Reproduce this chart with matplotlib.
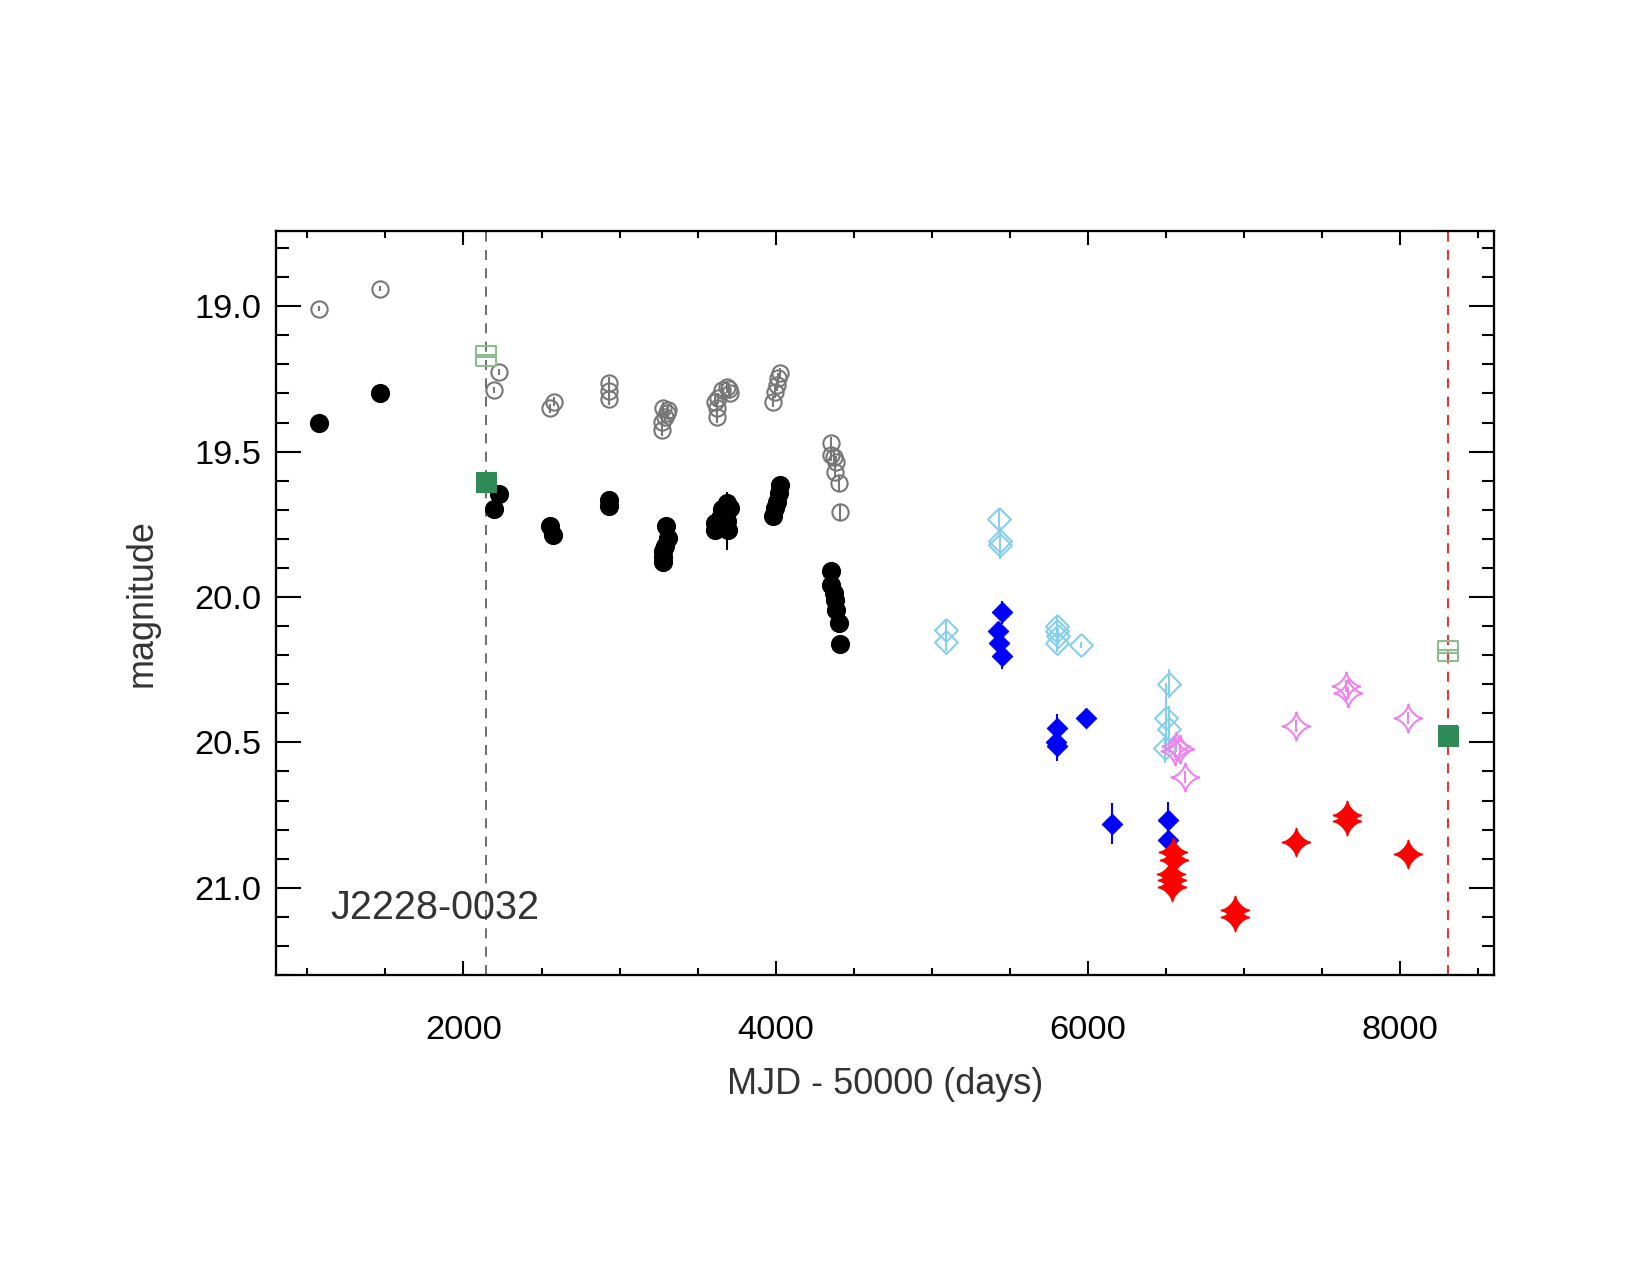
import numpy as np
import matplotlib
matplotlib.use("Agg")
import matplotlib.pyplot as plt
from matplotlib.ticker import MultipleLocator, FormatStrFormatter

plt.rcParams["font.family"] = ["Liberation Sans", "DejaVu Sans"]

# open grey circles
gray_x = [1075, 1465, 2195, 2229, 2554, 2577, 2932, 2932, 2932,
          3269, 3269, 3279, 3290, 3301, 3311,
          3610, 3621, 3621, 3631, 3653, 3685, 3706, 3700,
          3983, 3994, 4005, 4015, 4026,
          4357, 4357, 4372, 4385, 4378, 4404, 4410]
gray_y = [19.008, 18.939, 19.288, 19.225, 19.351, 19.328, 19.263, 19.291, 19.319,
          19.426, 19.397, 19.351, 19.380, 19.368, 19.357,
          19.328, 19.351, 19.380, 19.317, 19.288, 19.277, 19.300, 19.285,
          19.328, 19.294, 19.271, 19.248, 19.231,
          19.471, 19.511, 19.519, 19.534, 19.569, 19.609, 19.709]
gray_err = [0.01, 0.01, 0.01, 0.01, 0.015, 0.015, 0.02, 0.02, 0.02,
            0.02, 0.02, 0.02, 0.02, 0.02, 0.02,
            0.02, 0.02, 0.02, 0.02, 0.02, 0.02, 0.02, 0.02,
            0.02, 0.02, 0.02, 0.02, 0.02,
            0.02, 0.02, 0.02, 0.02, 0.02, 0.025, 0.03]

# filled black circles
black_x = [1075, 1465, 2229, 2195, 2554, 2575, 2933, 2933,
           3296, 3311, 3290, 3279, 3275, 3280,
           3685, 3706, 3653, 3642, 3610, 3610, 3695, 3685,
           4026, 4020, 4005, 3994, 3983,
           4357, 4357, 4370, 4378, 4389, 4404, 4410]
black_y = [19.400, 19.300, 19.646, 19.696, 19.755, 19.786, 19.666, 19.688,
           19.757, 19.797, 19.826, 19.843, 19.862, 19.880,
           19.677, 19.694, 19.697, 19.729, 19.746, 19.769, 19.769, 19.740,
           19.614, 19.643, 19.672, 19.694, 19.723,
           19.912, 19.957, 19.986, 20.009, 20.043, 20.089, 20.163]
black_err = [0.01, 0.01, 0.01, 0.01, 0.01, 0.01, 0.01, 0.01,
             0.02, 0.02, 0.02, 0.02, 0.02, 0.02,
             0.02, 0.02, 0.02, 0.02, 0.02, 0.02, 0.02, 0.10,
             0.02, 0.02, 0.02, 0.02, 0.03,
             0.02, 0.02, 0.02, 0.02, 0.02, 0.02, 0.02]

# open light blue diamonds
lblue_x = [5092, 5092, 5428, 5439, 5433, 5800, 5800, 5805, 5798, 5956,
           6519, 6502, 6519, 6491]
lblue_y = [20.112, 20.156, 19.732, 19.808, 19.820, 20.100, 20.118, 20.135, 20.158, 20.164,
           20.298, 20.415, 20.455, 20.521]
lblue_err = [0.03, 0.03, 0.03, 0.05, 0.05, 0.03, 0.03, 0.03, 0.03, 0.01,
             0.05, 0.12, 0.08, 0.05]

# filled blue diamonds
blue_x = [5451, 5423, 5428, 5451, 5800, 5795, 5800, 5988, 6155, 6514, 6514]
blue_y = [20.053, 20.118, 20.158, 20.204, 20.451, 20.497, 20.514, 20.417, 20.780, 20.766, 20.835]
blue_err = [0.04, 0.03, 0.03, 0.045, 0.05, 0.03, 0.05, 0.01, 0.07, 0.06, 0.03]

# open violet stars
violet_x = [6565, 6590, 6555, 6619, 7330, 7653, 7662, 8046]
violet_y = [20.512, 20.524, 20.530, 20.619, 20.443, 20.307, 20.330, 20.416]
violet_err = [0.02, 0.02, 0.02, 0.02, 0.02, 0.02, 0.02, 0.02]

# filled red stars
red_x = [6544, 6548, 6534, 6540, 6540, 6944, 6944, 7330, 7657, 7657, 8046]
red_y = [20.878, 20.905, 20.953, 20.975, 20.998, 21.076, 21.099, 20.841, 20.749, 20.772, 20.884]
red_err = [0.02, 0.02, 0.02, 0.02, 0.02, 0.02, 0.02, 0.02, 0.02, 0.02, 0.02]

# green squares (open / filled) and reference epochs
gopen_x = [2145, 8305]
gopen_y = [19.172, 20.187]
gopen_err = [0.003, 0.004]
gfill_x = [2145, 8305]
gfill_y = [19.603, 20.477]
gfill_err = [0.005, 0.034]
epoch_black = 2145
epoch_red = 8305

# marker shapes
diamond = [(0, 1), (1, 0), (0, -1), (-1, 0), (0, 1)]
square = [(-1, -1), (1, -1), (1, 1), (-1, 1), (-1, -1)]
t = np.linspace(0, 2 * np.pi, 81)
star = list(zip(np.sign(np.cos(t)) * np.abs(np.cos(t)) ** 2.9,
                np.sign(np.sin(t)) * np.abs(np.sin(t)) ** 2.9))

fig = plt.figure(figsize=(11, 8.5), dpi=150)
ax = fig.add_axes([0.1673, 0.2353, 0.7382, 0.5838])

ax.axvline(epoch_black, color="#555555", lw=0.8, ls=(0, (6, 5)), zorder=1)
ax.axvline(epoch_red, color="red", lw=0.8, ls=(0, (6, 5)), zorder=1)


def series(x, y, err, color, marker, ms, filled, mew=1.0, capsize=0):
    ax.errorbar(x, y, yerr=err, fmt="none", ecolor=color, elinewidth=1.0,
                capsize=capsize, capthick=1.0, zorder=2)
    ax.plot(x, y, ls="none", marker=marker, ms=ms,
            mfc=color if filled else "none", mec=color, mew=mew, zorder=3)


series(gray_x, gray_y, gray_err, "#777777", "o", 7.8, False)
series(black_x, black_y, black_err, "black", "o", 8.2, True)
series(lblue_x, lblue_y, lblue_err, "#87CEEB", diamond, 11, False)
series(blue_x, blue_y, blue_err, "#0000FF", diamond, 9.8, True, mew=0.5)
series(violet_x, violet_y, violet_err, "#EE82EE", star, 13.5, False)
series(red_x, red_y, red_err, "#FF0000", star, 13.5, True, mew=0.8)
series(gopen_x, gopen_y, gopen_err, "#8FBC8F", square, 9.6, False, capsize=4.8)
series(gfill_x, gfill_y, gfill_err, "#2E8B57", square, 9.6, True, mew=0.5, capsize=4.8)

ax.text(1145, 21.068, "J2228-0032", fontsize=19, color="#333333",
        ha="left", va="center")

ax.set_xlim(800, 8600)
ax.set_ylim(21.30, 18.74)

ax.xaxis.set_major_locator(MultipleLocator(2000))
ax.xaxis.set_minor_locator(MultipleLocator(500))
ax.yaxis.set_major_locator(MultipleLocator(0.5))
ax.yaxis.set_minor_locator(MultipleLocator(0.1))
ax.yaxis.set_major_formatter(FormatStrFormatter("%.1f"))

ax.tick_params(which="both", direction="in", top=True, right=True, width=1.0,
               labelsize=16.5, colors="black")
ax.tick_params(axis="x", which="major", length=6.7, pad=19)
ax.tick_params(axis="x", which="minor", length=3.4)
ax.tick_params(axis="y", which="major", length=12, pad=6.9)
ax.tick_params(axis="y", which="minor", length=6)
for s in ax.spines.values():
    s.set_linewidth(1.1)

ax.set_xlabel("MJD - 50000 (days)", fontsize=17.3, color="#333333")
ax.set_ylabel("magnitude", fontsize=17.3, color="#333333")
ax.xaxis.set_label_coords(0.5, -0.124)
ax.yaxis.set_label_coords(-0.096, 0.5)

fig.savefig("out.png", dpi=150)
